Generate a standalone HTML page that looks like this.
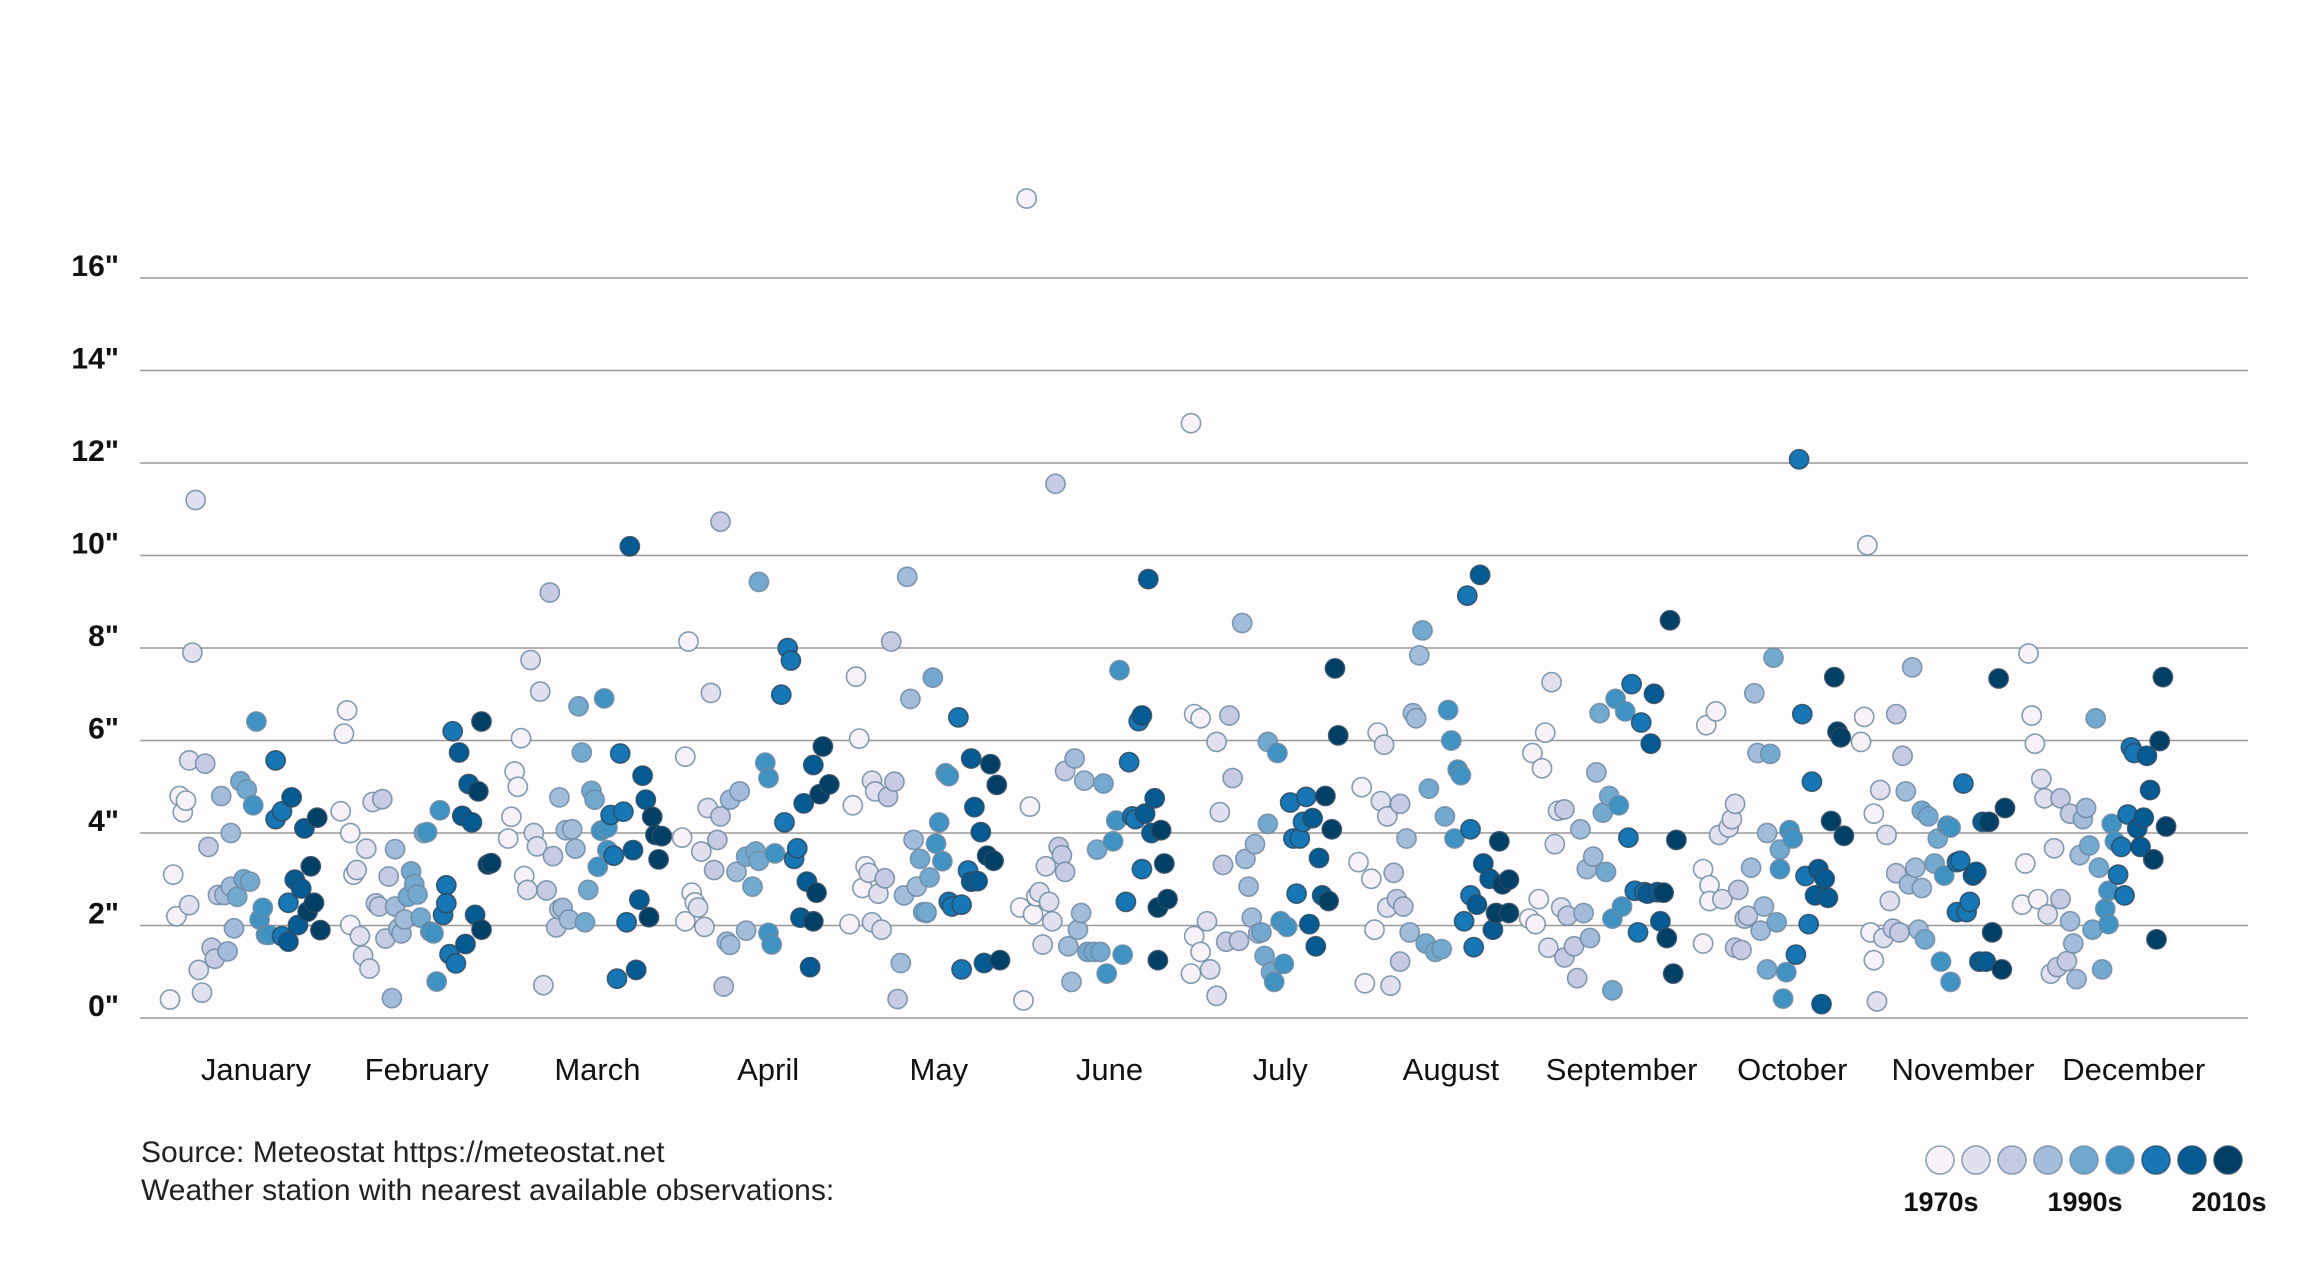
<!DOCTYPE html>
<html>
<head>
<meta charset="utf-8">
<style>
  html,body{margin:0;padding:0;background:#fefcfd;}
  body{width:2320px;height:1280px;overflow:hidden;font-family:"Liberation Sans",sans-serif;}
  svg{display:block;}
</style>
</head>
<body>
<svg id="chart" width="2320" height="1280" viewBox="0 0 2320 1280" xmlns="http://www.w3.org/2000/svg">
  <rect x="0" y="0" width="2320" height="1280" fill="#fefcfd"/>
  <g id="grid"></g>
  <g id="yticks"></g>
  <g id="xticks"></g>
  <g id="dots"></g>
  <g font-family="Liberation Sans, sans-serif" font-size="30" fill="#222">
    <text x="141" y="1162">Source: Meteostat https://meteostat.net</text>
    <text x="141" y="1200">Weather station with nearest available observations:</text>
  </g>
  <g id="legend"></g>
</svg>
<script>
const months = ["January","February","March","April","May","June","July","August","September","October","November","December"];
const yTicks = [0,2,4,6,8,10,12,14,16];
const tickLabels = ['0"','2"','4"','6"','8"','10"','12"','14"','16"'];
const legendLabels = ["1970s","1990s","2010s"];
const baseYear = 1973;
// per month: [yearOffset, inches]
const jan = [[0,.4],[1,3.1],[2,2.2],[3,4.8],[4,4.45],[5,4.7],[6,5.57],[6,2.44],[7,7.9],[8,11.2],[9,1.04],[10,.55],[11,5.5],[12,3.7],[13,1.52],[14,1.28],[15,2.66],[16,4.8],[17,2.66],[18,1.44],[19,4.0],[19,2.84],[20,1.94],[21,2.62],[22,5.12],[23,3.0],[24,4.94],[25,2.95],[26,4.6],[27,6.41],[28,2.13],[29,2.38],[30,1.8],[31,1.8],[33,4.3],[33,5.57],[35,4.47],[35,1.77],[37,2.49],[37,1.65],[38,4.77],[39,2.99],[40,2.01],[41,2.8],[42,4.1],[43,2.3],[44,3.28],[45,2.49],[46,4.33],[47,1.9]];
const feb = [[0,4.47],[1,6.15],[2,6.65],[3,4.0],[3,2.01],[4,3.1],[5,3.2],[6,1.77],[7,1.35],[8,3.66],[9,1.07],[10,4.67],[11,2.48],[12,2.41],[13,4.73],[14,1.72],[15,3.06],[16,.43],[17,3.65],[17,2.41],[18,1.93],[19,1.83],[20,2.13],[21,2.62],[22,3.17],[23,2.89],[24,2.67],[25,2.17],[26,4.0],[27,4.02],[28,1.87],[29,1.83],[30,.79],[31,4.49],[32,2.23],[33,2.87],[33,2.48],[34,1.38],[35,6.2],[36,1.18],[37,5.74],[38,4.37],[39,1.6],[40,5.06],[41,4.23],[42,2.23],[43,4.9],[44,1.91],[44,6.41],[46,3.32],[47,3.35]];
const mar = [[-1,3.88],[0,4.35],[1,5.33],[2,5.0],[3,6.05],[4,3.07],[5,2.77],[6,7.74],[7,4.0],[8,3.71],[9,7.06],[10,.71],[11,2.76],[12,9.2],[13,3.5],[14,1.96],[15,2.35],[15,4.77],[16,2.38],[17,4.06],[18,2.13],[19,4.08],[20,3.66],[21,6.74],[22,5.74],[23,2.07],[24,2.77],[25,4.91],[26,4.72],[27,3.27],[28,4.05],[29,6.91],[30,3.63],[30,4.12],[31,4.39],[32,3.51],[33,.85],[34,5.72],[35,4.46],[36,2.07],[37,10.2],[38,3.63],[39,1.04],[40,2.56],[41,5.24],[42,4.72],[43,2.18],[44,4.35],[45,3.96],[46,3.43],[47,3.93]];
const apr = [[0,3.9],[1,2.09],[1,5.65],[2,8.14],[3,2.71],[4,2.5],[5,2.39],[6,3.6],[7,1.97],[8,4.54],[9,7.03],[10,3.2],[11,3.85],[12,10.73],[12,4.36],[13,.68],[14,1.65],[15,4.72],[15,1.58],[17,3.16],[18,4.9],[20,1.89],[20,3.49],[22,2.84],[23,3.6],[24,9.43],[24,3.4],[26,5.52],[27,1.84],[27,5.19],[28,1.59],[29,3.56],[31,6.99],[32,4.23],[33,8.0],[34,7.73],[35,3.44],[36,3.67],[37,2.17],[38,4.64],[39,2.95],[40,1.1],[41,5.47],[41,2.09],[42,2.71],[43,4.84],[44,5.87],[46,5.05]];
const may = [[-1,2.03],[0,4.6],[1,7.38],[2,6.04],[3,2.81],[4,3.28],[5,3.14],[6,2.07],[6,5.13],[7,4.9],[8,2.69],[9,1.91],[10,3.02],[11,4.78],[12,8.14],[13,5.11],[14,.41],[15,1.19],[16,2.65],[17,9.54],[18,6.9],[19,3.85],[20,2.84],[21,3.44],[22,2.29],[23,2.27],[23,2.29],[24,3.04],[25,7.36],[26,3.77],[27,4.23],[28,3.39],[29,5.29],[30,5.23],[30,2.51],[31,2.41],[33,6.5],[34,1.05],[34,2.45],[36,3.19],[37,2.95],[37,5.61],[38,4.56],[39,2.96],[40,4.02],[41,1.19],[42,3.51],[43,5.49],[44,3.4],[45,5.04],[46,1.25]];
const jun = [[-1,2.39],[0,.38],[1,17.72],[2,4.57],[3,2.24],[4,2.63],[5,2.72],[6,1.59],[7,3.28],[8,2.51],[9,2.09],[10,11.55],[11,3.7],[12,3.52],[13,5.34],[13,3.16],[14,1.55],[15,.78],[16,5.61],[17,1.91],[18,2.27],[19,5.13],[20,1.43],[22,1.43],[23,3.64],[24,1.43],[25,5.07],[26,.96],[28,3.82],[29,4.27],[30,7.52],[31,1.37],[32,2.51],[33,5.53],[34,4.36],[35,4.3],[36,6.42],[37,3.22],[37,6.54],[38,4.42],[39,9.49],[40,4.0],[41,4.75],[42,1.25],[42,2.39],[43,4.06],[44,3.34],[45,2.57]];
const jul = [[-1,12.86],[-1,.96],[0,6.57],[2,6.48],[0,1.77],[2,1.43],[4,2.09],[5,1.05],[7,.48],[7,5.97],[8,4.45],[9,3.31],[11,6.54],[12,5.19],[10,1.65],[14,1.67],[15,8.54],[16,3.44],[17,2.84],[18,2.17],[19,3.76],[20,1.83],[21,1.85],[22,1.34],[23,5.97],[23,4.2],[24,.99],[25,.78],[26,5.73],[27,2.09],[28,1.17],[29,1.97],[30,4.66],[31,3.88],[32,2.69],[33,3.88],[34,4.24],[35,4.78],[36,2.03],[37,4.32],[38,1.55],[39,3.46],[40,2.65],[41,4.8],[42,2.53],[43,4.08],[44,7.56],[45,6.11]];
const aug = [[-2,3.37],[-1,4.99],[0,.75],[2,3.01],[3,1.91],[4,6.17],[5,4.69],[6,5.91],[7,4.36],[7,2.39],[8,.7],[9,3.14],[10,2.57],[11,1.22],[11,4.63],[12,2.41],[13,3.88],[14,1.85],[15,6.59],[16,6.48],[17,7.84],[18,8.38],[19,1.61],[20,4.96],[22,1.43],[24,1.49],[25,4.36],[26,6.66],[27,6.0],[28,3.88],[29,5.37],[30,5.25],[31,2.09],[32,9.13],[33,2.65],[33,4.08],[34,1.53],[35,2.45],[36,9.58],[37,3.34],[39,3.01],[40,1.91],[41,2.27],[42,3.82],[43,2.89],[45,2.27],[45,2.99]];
const sep = [[-2,2.15],[-1,5.73],[0,2.03],[1,2.57],[2,5.4],[3,6.17],[4,1.52],[5,7.26],[6,3.76],[7,4.48],[8,2.39],[9,4.51],[9,1.31],[10,2.21],[12,1.55],[13,.86],[14,4.08],[15,2.27],[16,3.22],[17,1.73],[18,3.49],[19,5.31],[20,6.59],[21,4.44],[22,3.16],[23,4.8],[24,.6],[24,2.15],[25,6.9],[26,4.6],[27,2.41],[28,6.63],[29,3.9],[30,7.22],[31,2.75],[32,1.85],[33,6.39],[34,2.72],[35,2.69],[36,5.93],[37,7.01],[38,2.72],[39,2.09],[40,2.71],[41,1.73],[42,8.6],[43,.96],[44,3.85]];
const oct = [[-1,1.61],[-1,3.22],[0,6.33],[3,6.63],[1,2.87],[1,2.53],[4,3.96],[5,2.57],[7,4.12],[8,4.3],[9,4.63],[9,1.52],[10,2.77],[11,1.47],[12,2.15],[13,2.21],[14,3.25],[15,7.02],[16,5.73],[17,1.89],[18,2.41],[19,4.0],[19,1.05],[20,5.71],[21,7.79],[22,2.07],[23,3.64],[23,3.22],[24,.42],[25,.99],[26,4.06],[27,3.88],[28,1.37],[29,12.08],[30,6.57],[31,3.07],[32,2.03],[33,5.11],[34,2.65],[35,3.22],[36,.3],[37,3.01],[38,2.6],[39,4.26],[40,7.37],[41,6.19],[42,6.07],[43,3.94]];
const nov = [[-5,5.97],[-4,6.51],[-3,10.22],[-2,1.85],[-1,1.25],[-1,4.42],[0,.36],[1,4.93],[2,1.73],[3,3.96],[4,2.53],[5,1.93],[6,3.13],[6,6.57],[7,1.85],[8,5.67],[9,4.9],[10,2.89],[11,7.58],[12,3.25],[13,1.91],[14,2.81],[14,4.48],[15,1.7],[16,4.36],[18,3.34],[19,3.88],[20,1.22],[21,3.08],[22,4.16],[23,.78],[23,4.12],[25,2.29],[25,3.37],[26,3.4],[27,5.07],[28,2.29],[29,2.51],[30,3.08],[31,3.16],[32,1.22],[33,4.24],[34,1.22],[35,4.24],[36,1.85],[38,7.34],[39,1.05],[40,4.54]];
const dec = [[-8,2.45],[-7,3.34],[-6,7.88],[-5,6.54],[-4,5.93],[-3,2.57],[-2,5.17],[-1,4.75],[0,2.24],[1,.96],[2,3.67],[3,1.1],[4,4.75],[4,2.57],[6,1.23],[7,4.42],[7,2.09],[8,1.61],[9,.84],[10,3.52],[11,4.3],[12,4.54],[13,3.73],[14,1.91],[15,6.48],[16,3.25],[17,1.05],[18,2.36],[19,2.75],[19,2.03],[20,4.2],[21,3.82],[22,3.1],[23,3.7],[24,2.65],[25,4.4],[26,5.85],[27,5.73],[28,4.1],[29,3.7],[30,4.33],[31,5.67],[32,4.93],[33,3.43],[34,1.7],[35,5.99],[36,7.37],[37,4.14]];
const monthSeries = [jan,feb,mar,apr,may,jun,jul,aug,sep,oct,nov,dec];
const palette = ["#f6f2f8","#e1e0ee","#c6cbe3","#a2bcda","#74a9cf","#3f92c2","#1677b4","#045b92","#023f65"];

const NS = "http://www.w3.org/2000/svg";
const X0 = 170, MW = 170.7, YW = 3.2;
const Y0 = 1018, PPI = 46.25, GX1 = 140, GX2 = 2248;
function xScale(m, yearOff){ return X0 + m*MW + yearOff*YW; }
function yScale(v){ return Y0 - v*PPI; }
function mk(tag, attrs, parent){
  const e = document.createElementNS(NS, tag);
  for (const k in attrs) e.setAttribute(k, attrs[k]);
  parent.appendChild(e);
  return e;
}
const grid = document.getElementById('grid');
const yt = document.getElementById('yticks');
yTicks.forEach((t,i)=>{
  const l = mk('line',{x1:GX1,x2:GX2,y1:yScale(t),y2:yScale(t),stroke:'#9a9a9a','stroke-width':1.4},grid);
  
  
  const tx = mk('text',{x:119,y:yScale(t)-2,'text-anchor':'end','font-size':30,'font-weight':'bold',fill:'#111','font-family':'Liberation Sans, sans-serif'},yt);
  tx.textContent = tickLabels[i];
  
  
});
const xt = document.getElementById('xticks');
months.forEach((m,i)=>{
  const tx = mk('text',{x:xScale(i,0)+86,y:1080,'text-anchor':'middle','font-size':31,fill:'#111','font-family':'Liberation Sans, sans-serif'},xt);
  tx.textContent = m;
  
  
});
const dots = document.getElementById('dots');
monthSeries.forEach((series, m)=>{
  const order = series.map((p,i)=>i).sort((a,b)=>series[a][0]-series[b][0]);
  const n = series.length;
  order.forEach((idx, rank)=>{
    const p = series[idx];
    const year = baseYear + p[0];
    const shade = Math.min(8, Math.floor(rank*9/n));
    const c = mk('circle',{cx:xScale(m,p[0]).toFixed(1),cy:yScale(p[1]).toFixed(1),r:9.6,fill:palette[shade],stroke:shade>5?'#2d4a63':'#6f8ba3','stroke-width':1.6,'stroke-opacity':0.85},dots);
    
    
  });
});
const lg = document.getElementById('legend');
palette.forEach((col,i)=>{
  const c = mk('circle',{cx:1940+i*36,cy:1160,r:14,fill:col,stroke:i>5?'#2d4a63':'#6f8ba3','stroke-width':1.6,'stroke-opacity':0.8},lg);
  
  
});
legendLabels.forEach((lab,i)=>{
  const t = mk('text',{x:1941+i*144,y:1211,'text-anchor':'middle','font-size':27,'font-weight':'bold',fill:'#111','font-family':'Liberation Sans, sans-serif'},lg);
  t.textContent = lab;
  
  
});
</script>
</body>
</html>
